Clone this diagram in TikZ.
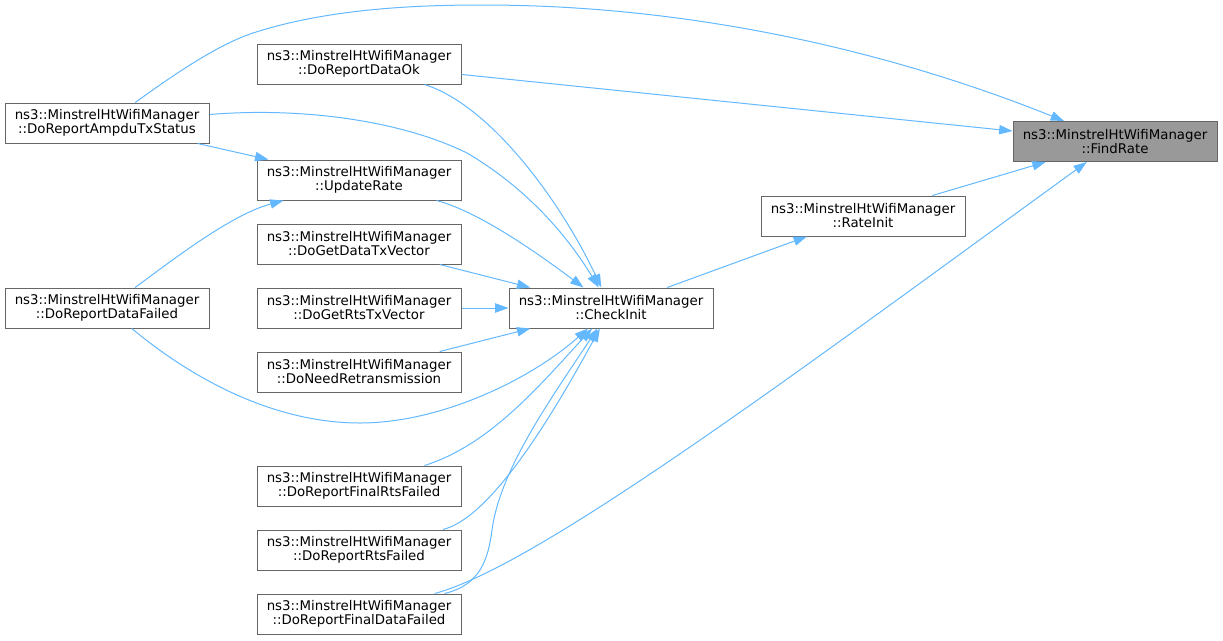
\documentclass[tikz,border=0pt]{standalone}
\usepackage{fontspec}
\setmainfont{DejaVu Sans}
\usetikzlibrary{arrows.meta}

\definecolor{edgeblue}{HTML}{63B8FF}
\definecolor{boxline}{HTML}{666666}
\definecolor{boxgray}{HTML}{999999}

\begin{document}
\begin{tikzpicture}[x=0.75pt, y=-0.75pt,
  fn/.style={rectangle, draw=boxline, line width=0.75pt, fill=white, minimum width=153pt, minimum height=30pt, inner sep=0pt, align=center, font=\fontsize{10}{10.5}\selectfont},
  root/.style={fn, fill=boxgray},
  call/.style={draw=edgeblue, line width=0.75pt, -{Triangle[length=10pt,width=7pt]}}]
  \useasboundingbox (0,0) rectangle (1223,640);

  % the function and its callers
  \node[root] (FR) at (1115,141.5) {ns3::MinstrelHtWifiManager\\::FindRate};
  \node[fn] (RI) at (863,216) {ns3::MinstrelHtWifiManager\\::RateInit};
  \node[fn] (CI) at (611,308) {ns3::MinstrelHtWifiManager\\::CheckInit};
  \node[fn] (DO) at (359,64) {ns3::MinstrelHtWifiManager\\::DoReportDataOk};
  \node[fn] (UR) at (359,180) {ns3::MinstrelHtWifiManager\\::UpdateRate};
  \node[fn] (DT) at (359,244) {ns3::MinstrelHtWifiManager\\::DoGetDataTxVector};
  \node[fn] (RT) at (359,308) {ns3::MinstrelHtWifiManager\\::DoGetRtsTxVector};
  \node[fn] (NR) at (359,372) {ns3::MinstrelHtWifiManager\\::DoNeedRetransmission};
  \node[fn] (FRF) at (359,486) {ns3::MinstrelHtWifiManager\\::DoReportFinalRtsFailed};
  \node[fn] (RF) at (359,550) {ns3::MinstrelHtWifiManager\\::DoReportRtsFailed};
  \node[fn] (FDF) at (359,614) {ns3::MinstrelHtWifiManager\\::DoReportFinalDataFailed};
  \node[fn] (AT) at (107,123) {ns3::MinstrelHtWifiManager\\::DoReportAmpduTxStatus};
  \node[fn] (DF) at (107,308) {ns3::MinstrelHtWifiManager\\::DoReportDataFailed};

  % calls into FindRate
  \draw[call] (AT) .. controls (180,70) and (220,44) .. (253,33) .. controls (330,8) and (420,5) .. (483,5) .. controls (700,5) and (900,55) .. (FR);
  \draw[call] (DO) -- (FR);
  \draw[call] (RI) -- (FR);
  \draw[call] (FDF) .. controls (540,565) and (800,370) .. (FR);

  % calls into RateInit and UpdateRate
  \draw[call] (CI) -- (RI);
  \draw[call] (AT) -- (UR);
  \draw[call] (DF) .. controls (170,262) and (230,215) .. (UR);

  % calls into CheckInit
  \draw[call] (AT) .. controls (300,107) and (400,120) .. (467,153) .. controls (530,190) and (570,240) .. (CI);
  \draw[call] (DO) .. controls (490,105) and (560,200) .. (CI);
  \draw[call] (UR) .. controls (480,212) and (540,255) .. (CI);
  \draw[call] (DT) -- (CI);
  \draw[call] (RT) -- (CI);
  \draw[call] (NR) -- (CI);
  \draw[call] (DF) .. controls (200,385) and (280,423) .. (360,423) .. controls (440,423) and (530,380) .. (CI);
  \draw[call] (FRF) .. controls (490,445) and (540,385) .. (CI);
  \draw[call] (RF) .. controls (490,518) and (550,420) .. (CI);
  \draw[call] (FDF) .. controls (480,585) and (488,560) .. (492,530) .. controls (500,470) and (550,400) .. (CI);
\end{tikzpicture}
\end{document}
